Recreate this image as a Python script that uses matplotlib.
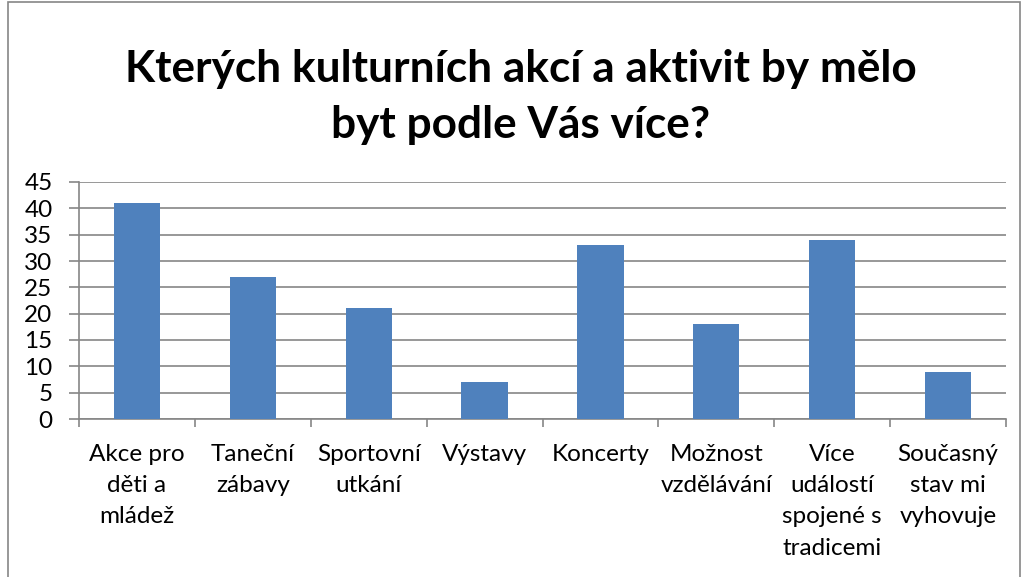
import matplotlib
matplotlib.use("Agg")
import matplotlib.pyplot as plt
from matplotlib.patches import Rectangle

categories = ["Akce pro\nděti a\nmládež", "Taneční\nzábavy", "Sportovní\nutkání", "Výstavy",
              "Koncerty", "Možnost\nvzdělávání", "Více\nudálostí\nspojené s\ntradicemi",
              "Současný\nstav mi\nvyhovuje"]
values = [41, 27, 21, 7, 33, 18, 34, 9]
yticks = [0, 5, 10, 15, 20, 25, 30, 35, 40, 45]
title = "Kterých kulturních akcí a aktivit by mělo\nbyt podle Vás více?"

plt.rcParams['font.family'] = ['Lato', 'DejaVu Sans']

W, H = 1023, 577
fig = plt.figure(figsize=(W / 100, H / 100), dpi=100)
ax = fig.add_axes([79 / W, 1 - 419 / H, (1006 - 79) / W, (419 - 182) / H])

x = list(range(len(categories)))
ax.bar(x, values, width=0.4, color="#4F81BD", zorder=3)
ax.set_xlim(-0.5, len(categories) - 0.5)
ax.set_ylim(0, 45)
ax.set_yticks(yticks)
ax.set_yticklabels([str(v) for v in yticks], fontsize=17.5)
ax.yaxis.grid(True, color="#868686", linewidth=1.2, zorder=0)
ax.set_axisbelow(True)

ax.set_xticks(x)
ax.set_xticklabels(categories, fontsize=17.5, linespacing=1.6, va="top")
ax.tick_params(axis="x", which="major", length=0, pad=18)
ax.set_xticks([i - 0.5 for i in range(len(categories) + 1)], minor=True)
ax.tick_params(axis="x", which="minor", length=6, width=1.2, color="#868686")
ax.tick_params(axis="y", length=7, width=1.2, color="#868686", pad=12)

for s in ["top", "right"]:
    ax.spines[s].set_visible(False)
for s in ["left", "bottom"]:
    ax.spines[s].set_color("#868686")
    ax.spines[s].set_linewidth(1.2)

fig.text(521 / W, 1 - 97 / H, title, ha="center", va="center", fontsize=31.8,
         fontweight="bold", linespacing=1.5)

fig.patches.append(Rectangle((8 / W, -0.1), (1020 - 8) / W, 1.1 - 2 / H,
                             transform=fig.transFigure, fill=False,
                             edgecolor="#868686", linewidth=1.2))

fig.savefig("out.png", dpi=100)
